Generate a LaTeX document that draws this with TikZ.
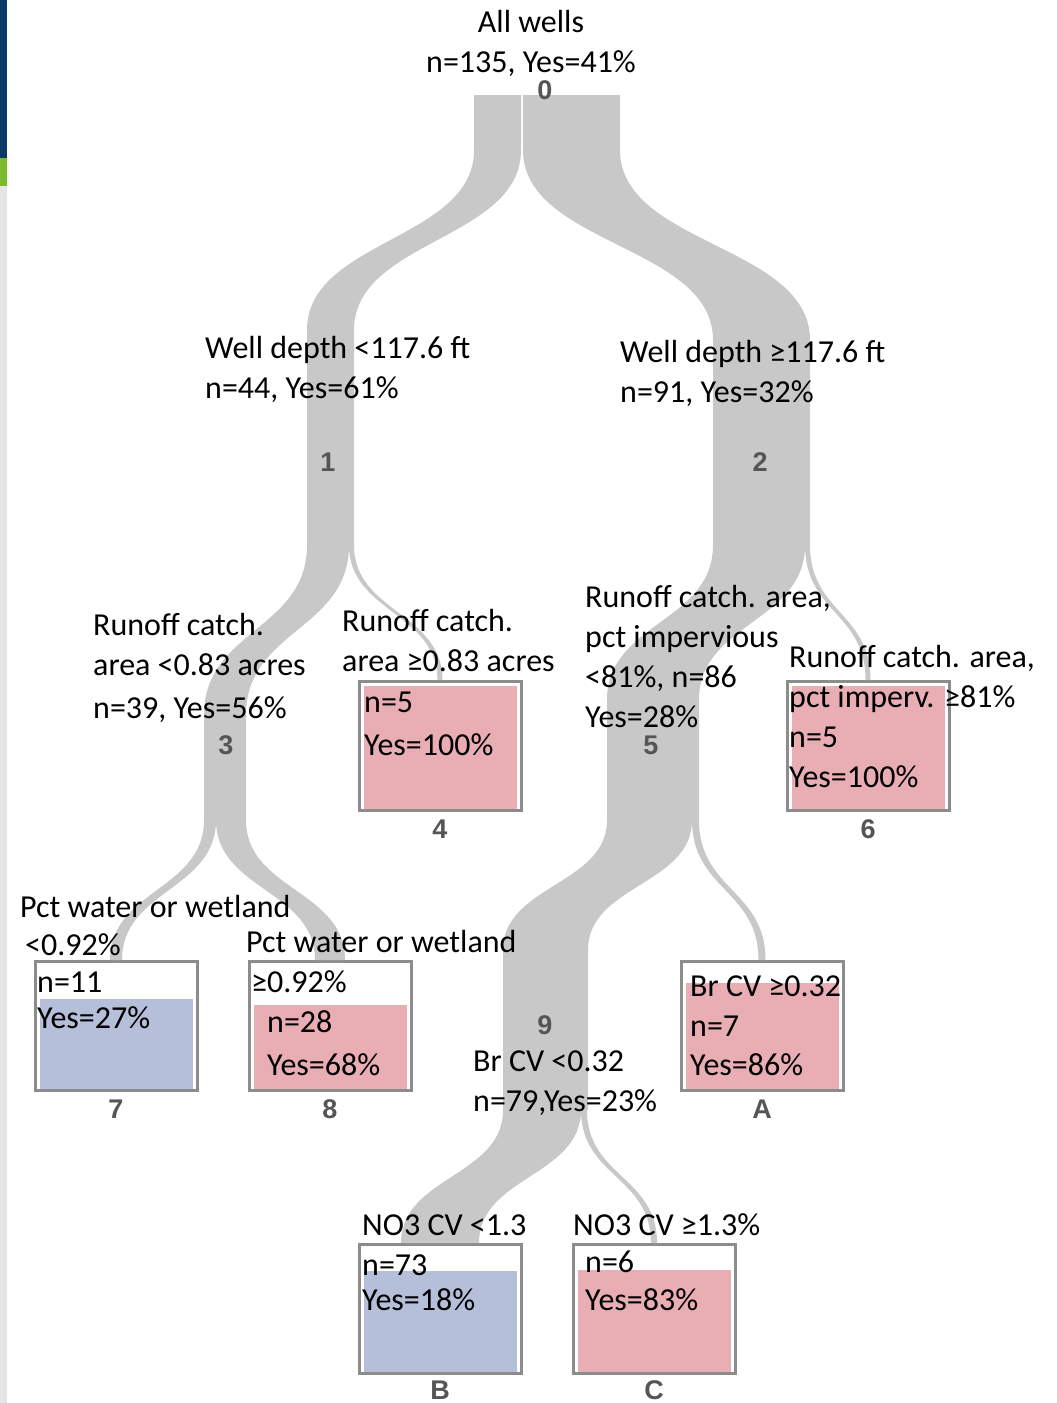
\documentclass[tikz,border=0pt]{standalone}
\usepackage{fontspec}
\setmainfont{Carlito}
\newfontfamily\numfont{Liberation Sans}
\usetikzlibrary{calc}

\definecolor{bandgray}{RGB}{200,200,200}
\definecolor{boxgray}{RGB}{140,140,140}
\definecolor{leafred}{RGB}{232,174,180}
\definecolor{leafblue}{RGB}{181,191,218}
\definecolor{numgray}{RGB}{85,85,85}
\definecolor{barnavy}{RGB}{12,56,100}
\definecolor{bargreen}{RGB}{122,185,41}
\definecolor{barlight}{RGB}{230,230,230}

\tikzset{
  band/.style={fill=bandgray},
  leaf/.style={draw=boxgray, line width=3pt, fill=white, minimum width=162pt,
    minimum height=129pt, inner sep=0pt, anchor=north},
  lab/.style={anchor=base west, align=left, inner sep=0pt,
    font=\fontsize{32}{40}\selectfont},
  num/.style={inner sep=0pt, text=numgray, font=\numfont\bfseries\fontsize{27}{27}\selectfont},
}

% band of width #3 from split #1 down to #2, bending between y=#4 and y=#5
\newcommand{\flowband}[5]{%
  \fill[band] let \p1=(#1), \p2=(#2), \n1={#3*0.5pt}, \n2={-(#4+#5)*0.5pt} in
    ({\x1-\n1},\y1) -- ({\x1-\n1},-#4pt)
    .. controls ({\x1-\n1},\n2) and ({\x2-\n1},\n2) .. ({\x2-\n1},-#5pt)
    -- ({\x2-\n1},\y2) -- ({\x2+\n1},\y2) -- ({\x2+\n1},-#5pt)
    .. controls ({\x2+\n1},\n2) and ({\x1+\n1},\n2) .. ({\x1+\n1},-#4pt)
    -- ({\x1+\n1},\y1) -- cycle;}

\newcommand{\leafbox}[5]{%
  \node[leaf] (#1) at (#2,#3) {};
  \fill[#4] ([xshift=6pt,yshift=3pt]#1.south west) rectangle
    ([xshift=-6pt,yshift={3pt+#5*123pt}]#1.south east);}

\begin{document}
\begin{tikzpicture}[x=1pt,y=-1pt]
\useasboundingbox (0,0) rectangle (1057,1403);
\fill[barnavy] (0,0) rectangle (7,158);
\fill[bargreen] (0,158) rectangle (7,186);
\fill[barlight] (0,186) rectangle (7,1403);

\coordinate (n0l) at (497.5,95);
\coordinate (n0r) at (571.5,95);
\coordinate (n1) at (330.5,545);
\coordinate (n1l) at (328,545);
\coordinate (n1r) at (351.5,545);
\coordinate (n2) at (761.5,545);
\coordinate (n2l) at (759,545);
\coordinate (n2r) at (807.5,545);
\coordinate (n3) at (225,820);
\coordinate (n3l) at (210,820);
\coordinate (n3r) at (231,820);
\coordinate (n5) at (653,820);
\coordinate (n5l) at (649.5,820);
\coordinate (n5r) at (695.5,820);
\coordinate (n9) at (545.5,1110);
\coordinate (n9l) at (542,1110);
\coordinate (n9r) at (584,1110);

\leafbox{box4}{440}{680}{leafred}{1}
\leafbox{box6}{868}{680}{leafred}{1}
\leafbox{box7}{116}{960}{leafblue}{0.73}
\leafbox{box8}{330}{960}{leafred}{0.68}
\leafbox{boxA}{762}{960}{leafred}{0.86}
\leafbox{boxB}{440}{1243}{leafblue}{0.82}
\leafbox{boxC}{654}{1243}{leafred}{0.83}

\flowband{n0l}{n1}{47}{150}{330}
\flowband{n0r}{n2}{97}{150}{340}
\flowband{n1l}{n3}{42}{545}{715}
\flowband{n1r}{box4.north}{5}{545}{680}
\flowband{n2l}{n5}{92}{545}{700}
\flowband{n2r}{box6.north}{5}{545}{680}
\flowband{n3l}{box7.north}{12}{820}{960}
\flowband{n3r}{box8.north}{30}{820}{960}
\flowband{n5l}{n9}{85}{820}{950}
\flowband{n5r}{boxA.north}{7}{820}{960}
\flowband{n9l}{boxB.north}{78}{1110}{1243}
\flowband{n9r}{boxC.north}{6}{1110}{1243}

\node[num] (lab0) at (545,90) {0};
\node[num] (lab1) at (328,462) {1};
\node[num] (lab2) at (760,462) {2};
\node[num] (lab3) at (226,745) {3};
\node[num] (lab5) at (651,745) {5};
\node[num] (lab9) at (545,1025) {9};
\node[num] (lab4) at ([yshift=-17pt]box4.south) {4};
\node[num] (lab6) at ([yshift=-17pt]box6.south) {6};
\node[num] (lab7) at ([yshift=-17pt]box7.south) {7};
\node[num] (lab8) at ([yshift=-17pt]box8.south) {8};
\node[num] (labA) at ([yshift=-17pt]boxA.south) {A};
\node[num] (labB) at ([yshift=-15pt]boxB.south) {B};
\node[num] (labC) at ([yshift=-15pt]boxC.south) {C};

\node[lab, anchor=base, align=center] (t0) at (531,72) {All wells\\n=135, Yes=41\%};
\node[lab] (t1) at (205,398) {Well depth <117.6 ft\\n=44, Yes=61\%};
\node[lab] (t2) at (620,402) {Well depth ≥117.6 ft\\n=91, Yes=32\%};
\node[lab] (t3) at (93,718) {Runoff catch.\\area <0.83 acres\\[3pt]n=39, Yes=56\%};
\node[lab] (t4) at (342,671) {Runoff catch.\\area ≥0.83 acres};
\node[lab] (c4) at (364,755) {n=5\\[3pt]Yes=100\%};
\node[lab] (t5) at (585,727) {Runoff catch. area,\\pct impervious\\<81\%, n=86\\Yes=28\%};
\node[lab] (t6) at (789,707) {Runoff catch. area,\\pct imperv. ≥81\%};
\node[lab] (c6) at (789,787) {n=5\\Yes=100\%};
\node[lab] (t7) at (20,955) {Pct water or wetland\\[-2pt]\hspace{5pt}<0.92\%};
\node[lab] (c7) at (37,1028) {n=11\\[-4pt]Yes=27\%};
\node[lab] (t8) at (246,992) {Pct water or wetland\\\hspace{5pt}≥0.92\%};
\node[lab] (c8) at (267,1075) {n=28\\[3pt]Yes=68\%};
\node[lab] (t9) at (473,1111) {Br CV <0.32\\n=79,Yes=23\%};
\node[lab] (tA) at (690,996) {Br CV ≥0.32};
\node[lab] (cA) at (690,1075) {n=7\\[-1pt]Yes=86\%};
\node[lab] (tB) at (362,1235) {NO3 CV <1.3};
\node[lab] (cB) at (362,1310) {n=73\\[-5pt]Yes=18\%};
\node[lab] (tC) at (573,1235) {NO3 CV ≥1.3\%};
\node[lab] (cC) at (585,1310) {n=6\\[-2pt]Yes=83\%};
\end{tikzpicture}
\end{document}
